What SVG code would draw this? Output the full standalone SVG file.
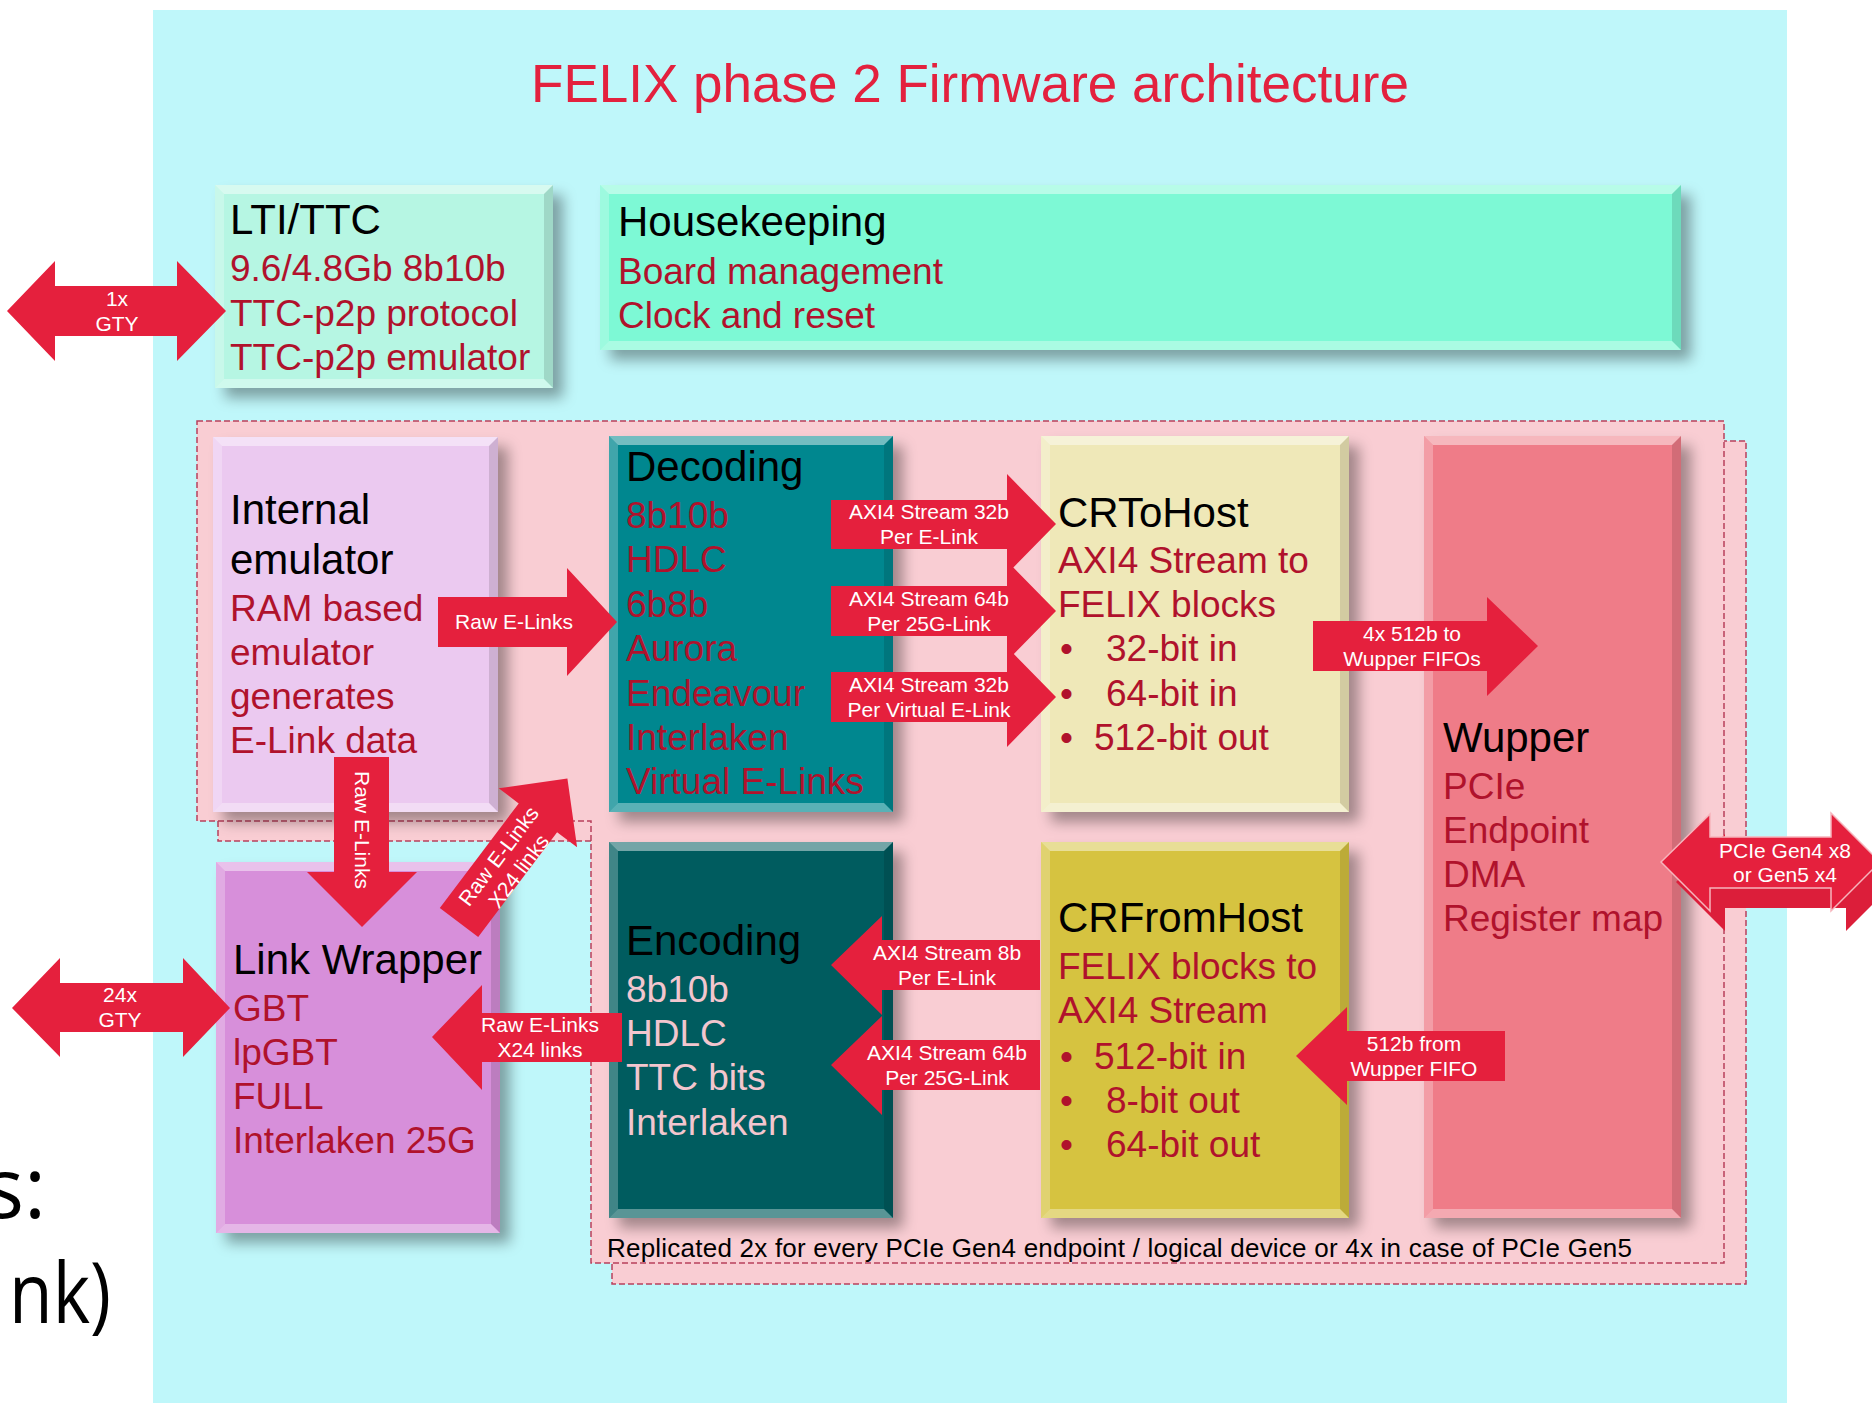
<svg xmlns="http://www.w3.org/2000/svg" width="1872" height="1403" viewBox="0 0 1872 1403">
<defs>
<style>
text{font-family:"Liberation Sans",Arial,sans-serif}
.h{font-size:42px;fill:#000}
.r{font-size:37px;fill:#B0122C}
.p{font-size:37px;fill:#F2C6CE}
.al{font-size:21px;fill:#fff;text-anchor:middle}
.arr{fill:#E5203D}
.bt{fill:#fff;opacity:.45}
.bl{fill:#fff;opacity:.25}
.bb{fill:#fff;opacity:.35}
.br{fill:#000;opacity:.12}
.rep{fill:#F9CDD3;stroke:#B8405C;stroke-width:1.5;stroke-dasharray:6 3}
.bg{font-family:"Open Sans","Noto Sans",sans-serif;font-size:84px;fill:#000}
</style>
<filter id="sh" x="-20%" y="-20%" width="150%" height="150%">
<feDropShadow dx="10" dy="10" stdDeviation="7" flood-color="#000" flood-opacity="0.35"/>
</filter>
</defs>
<rect x="0" y="0" width="1872" height="1403" fill="#fff"/>
<text class="bg" x="-16" y="1218">s:</text>
<text class="bg" x="9" y="1323" textLength="102" lengthAdjust="spacingAndGlyphs">nk)</text>
<rect x="153" y="10" width="1634" height="1393" fill="#BFF7FA"/>
<text x="970" y="102" text-anchor="middle" style="font-size:53px;fill:#E3213E">FELIX phase 2 Firmware architecture</text>

<g id="replica-back"><polygon class="rep" points="218,441 1746,441 1746,1284 612,1284 612,841 218,841"/></g>
<g id="replica-front"><polygon class="rep" points="197,421 1724,421 1724,1263 591,1263 591,821 197,821"/></g>

<g id="lti">
<rect x="215" y="185" width="338" height="203" fill="#B6F6E3" filter="url(#sh)"/>
<polygon class="bt" points="215,185 553,185 544,194 224,194"/>
<polygon class="bl" points="215,185 224,194 224,379 215,388"/>
<polygon class="br" points="553,185 553,388 544,379 544,194"/>
<polygon class="bb" points="215,388 224,379 544,379 553,388"/>
<text class="h" x="230" y="234">LTI/TTC</text>
<text class="r" x="230" y="281">9.6/4.8Gb 8b10b</text>
<text class="r" x="230" y="326">TTC-p2p protocol</text>
<text class="r" x="230" y="370">TTC-p2p emulator</text>
</g>

<g id="housekeeping">
<rect x="600" y="185" width="1081" height="165" fill="#7DF9D5" filter="url(#sh)"/>
<polygon class="bt" points="600,185 1681,185 1672,194 609,194"/>
<polygon class="bl" points="600,185 609,194 609,341 600,350"/>
<polygon class="br" points="1681,185 1681,350 1672,341 1672,194"/>
<polygon class="bb" points="600,350 609,341 1672,341 1681,350"/>
<text class="h" x="618" y="236">Housekeeping</text>
<text class="r" x="618" y="284">Board management</text>
<text class="r" x="618" y="328">Clock and reset</text>
</g>

<g id="internal-emulator">
<rect x="213" y="437" width="285" height="375" fill="#EBC9F0" filter="url(#sh)"/>
<polygon class="bt" points="213,437 498,437 489,446 222,446"/>
<polygon class="bl" points="213,437 222,446 222,803 213,812"/>
<polygon class="br" points="498,437 498,812 489,803 489,446"/>
<polygon class="bb" points="213,812 222,803 489,803 498,812"/>
<text class="h" x="230" y="524">Internal</text>
<text class="h" x="230" y="574">emulator</text>
<text class="r" x="230" y="621">RAM based</text>
<text class="r" x="230" y="665">emulator</text>
<text class="r" x="230" y="709">generates</text>
<text class="r" x="230" y="753">E-Link data</text>
</g>

<g id="decoding">
<rect x="609" y="436" width="284" height="376" fill="#00878F" filter="url(#sh)"/>
<polygon class="bt" points="609,436 893,436 884,445 618,445"/>
<polygon class="bl" points="609,436 618,445 618,803 609,812"/>
<polygon class="br" points="893,436 893,812 884,803 884,445"/>
<polygon class="bb" points="609,812 618,803 884,803 893,812"/>
<text class="h" x="626" y="481">Decoding</text>
<text class="r" x="626" y="528">8b10b</text>
<text class="r" x="626" y="572">HDLC</text>
<text class="r" x="626" y="617">6b8b</text>
<text class="r" x="626" y="661">Aurora</text>
<text class="r" x="626" y="706">Endeavour</text>
<text class="r" x="626" y="750">Interlaken</text>
<text class="r" x="626" y="794">Virtual E-Links</text>
</g>

<g id="crtohost">
<rect x="1041" y="436" width="308" height="376" fill="#EFE8B8" filter="url(#sh)"/>
<polygon class="bt" points="1041,436 1349,436 1340,445 1050,445"/>
<polygon class="bl" points="1041,436 1050,445 1050,803 1041,812"/>
<polygon class="br" points="1349,436 1349,812 1340,803 1340,445"/>
<polygon class="bb" points="1041,812 1050,803 1340,803 1349,812"/>
<text class="h" x="1058" y="527">CRToHost</text>
<text class="r" x="1058" y="573">AXI4 Stream to</text>
<text class="r" x="1058" y="617">FELIX blocks</text>
<text class="r" x="1060" y="661">•</text><text class="r" x="1106" y="661">32-bit in</text>
<text class="r" x="1060" y="706">•</text><text class="r" x="1106" y="706">64-bit in</text>
<text class="r" x="1060" y="750">•</text><text class="r" x="1094" y="750">512-bit out</text>
</g>

<g id="wupper">
<rect x="1424" y="436" width="257" height="782" fill="#EF7B88" filter="url(#sh)"/>
<polygon class="bt" points="1424,436 1681,436 1672,445 1433,445"/>
<polygon class="bl" points="1424,436 1433,445 1433,1209 1424,1218"/>
<polygon class="br" points="1681,436 1681,1218 1672,1209 1672,445"/>
<polygon class="bb" points="1424,1218 1433,1209 1672,1209 1681,1218"/>
<text class="h" x="1443" y="752">Wupper</text>
<text class="r" x="1443" y="799">PCIe</text>
<text class="r" x="1443" y="843">Endpoint</text>
<text class="r" x="1443" y="887">DMA</text>
<text class="r" x="1443" y="931">Register map</text>
</g>

<g id="link-wrapper">
<rect x="216" y="862" width="284" height="371" fill="#D78FDA" filter="url(#sh)"/>
<polygon class="bt" points="216,862 500,862 491,871 225,871"/>
<polygon class="bl" points="216,862 225,871 225,1224 216,1233"/>
<polygon class="br" points="500,862 500,1233 491,1224 491,871"/>
<polygon class="bb" points="216,1233 225,1224 491,1224 500,1233"/>
<text class="h" x="233" y="974">Link Wrapper</text>
<text class="r" x="233" y="1021">GBT</text>
<text class="r" x="233" y="1065">lpGBT</text>
<text class="r" x="233" y="1109">FULL</text>
<text class="r" x="233" y="1153">Interlaken 25G</text>
</g>

<g id="encoding">
<rect x="609" y="842" width="284" height="376" fill="#005B5E" filter="url(#sh)"/>
<polygon class="bt" points="609,842 893,842 884,851 618,851"/>
<polygon class="bl" points="609,842 618,851 618,1209 609,1218"/>
<polygon class="br" points="893,842 893,1218 884,1209 884,851"/>
<polygon class="bb" points="609,1218 618,1209 884,1209 893,1218"/>
<text class="h" x="626" y="955">Encoding</text>
<text class="p" x="626" y="1002">8b10b</text>
<text class="p" x="626" y="1046">HDLC</text>
<text class="p" x="626" y="1090">TTC bits</text>
<text class="p" x="626" y="1135">Interlaken</text>
</g>

<g id="crfromhost">
<rect x="1041" y="842" width="308" height="376" fill="#D6C33F" filter="url(#sh)"/>
<polygon class="bt" points="1041,842 1349,842 1340,851 1050,851"/>
<polygon class="bl" points="1041,842 1050,851 1050,1209 1041,1218"/>
<polygon class="br" points="1349,842 1349,1218 1340,1209 1340,851"/>
<polygon class="bb" points="1041,1218 1050,1209 1340,1209 1349,1218"/>
<text class="h" x="1058" y="932">CRFromHost</text>
<text class="r" x="1058" y="979">FELIX blocks to</text>
<text class="r" x="1058" y="1023">AXI4 Stream</text>
<text class="r" x="1060" y="1069">•</text><text class="r" x="1094" y="1069">512-bit in</text>
<text class="r" x="1060" y="1113">•</text><text class="r" x="1106" y="1113">8-bit out</text>
<text class="r" x="1060" y="1157">•</text><text class="r" x="1106" y="1157">64-bit out</text>
</g>

<text x="607" y="1257" textLength="1025" style="font-size:26px;fill:#000">Replicated 2x for every PCIe Gen4 endpoint / logical device or 4x in case of PCIe Gen5</text>

<g id="connectors">
<polygon class="arr" points="7,311 55,261 55,286 177,286 177,261 226,311 177,361 177,336 55,336 55,361"/>
<text class="al" x="117" y="306">1x</text>
<text class="al" x="117" y="331">GTY</text>

<polygon class="arr" points="12,1008 60,958 60,983 183,983 183,958 230,1008 183,1057 183,1032 60,1032 60,1057"/>
<text class="al" x="120" y="1002">24x</text>
<text class="al" x="120" y="1027">GTY</text>

<polygon class="arr" points="438,597 567,597 567,568 617,622 567,676 567,647 438,647"/>
<text class="al" x="514" y="629">Raw E-Links</text>

<polygon class="arr" points="831,500 1007,500 1007,474 1056,524 1007,574 1007,549 831,549"/>
<polygon class="arr" points="831,586 1007,586 1007,561 1056,611 1007,661 1007,636 831,636"/>
<polygon class="arr" points="831,672 1007,672 1007,647 1056,697 1007,747 1007,722 831,722"/>
<text class="al" x="929" y="519">AXI4 Stream 32b</text>
<text class="al" x="929" y="544">Per E-Link</text>
<text class="al" x="929" y="606">AXI4 Stream 64b</text>
<text class="al" x="929" y="631">Per 25G-Link</text>
<text class="al" x="929" y="692">AXI4 Stream 32b</text>
<text class="al" x="929" y="717">Per Virtual E-Link</text>

<polygon class="arr" points="1313,621 1487,621 1487,597 1538,646 1487,696 1487,671 1313,671"/>
<text class="al" x="1412" y="641">4x 512b to</text>
<text class="al" x="1412" y="666">Wupper FIFOs</text>

<polygon fill="#DC1E3A" points="1676,882 1725,834 1725,857 1846,857 1846,833 1895,882 1846,931 1846,908 1725,908 1725,931"/>
<polygon class="arr" stroke="#F6B4BC" stroke-width="1.5" points="1661,862 1710,814 1710,837 1831,837 1831,813 1880,862 1831,911 1831,888 1710,888 1710,911"/>
<text class="al" x="1785" y="858">PCIe Gen4 x8</text>
<text class="al" x="1785" y="882">or Gen5 x4</text>

<polygon class="arr" points="334,757 389,757 389,872 417,872 362,927 307,872 334,872"/>
<text class="al" transform="translate(362,830) rotate(90)" x="0" y="7">Raw E-Links</text>

<polygon class="arr" points="439.8,908.1 518.7,803.4 498.7,788.3 567.4,778.6 577.1,847.3 557.1,832.2 478.2,936.9"/>
<g transform="translate(498,870.6) rotate(-53)">
<text class="al" x="12" y="-1">Raw E-Links</text>
<text class="al" x="12" y="24">X24 links</text>
</g>

<polygon class="arr" points="622,1013 482,1013 482,985 432,1037 482,1090 482,1062 622,1062"/>
<text class="al" x="540" y="1032">Raw E-Links</text>
<text class="al" x="540" y="1057">X24 links</text>

<polygon class="arr" points="1040,940 882,940 882,916 831,965 882,1015 882,990 1040,990"/>
<text class="al" x="947" y="960">AXI4 Stream 8b</text>
<text class="al" x="947" y="985">Per E-Link</text>

<polygon class="arr" points="1040,1040 882,1040 882,1016 831,1065 882,1115 882,1090 1040,1090"/>
<text class="al" x="947" y="1060">AXI4 Stream 64b</text>
<text class="al" x="947" y="1085">Per 25G-Link</text>

<polygon class="arr" points="1505,1031 1347,1031 1347,1007 1296,1056 1347,1105 1347,1081 1505,1081"/>
<text class="al" x="1414" y="1051">512b from</text>
<text class="al" x="1414" y="1076">Wupper FIFO</text>
</g>
</svg>
